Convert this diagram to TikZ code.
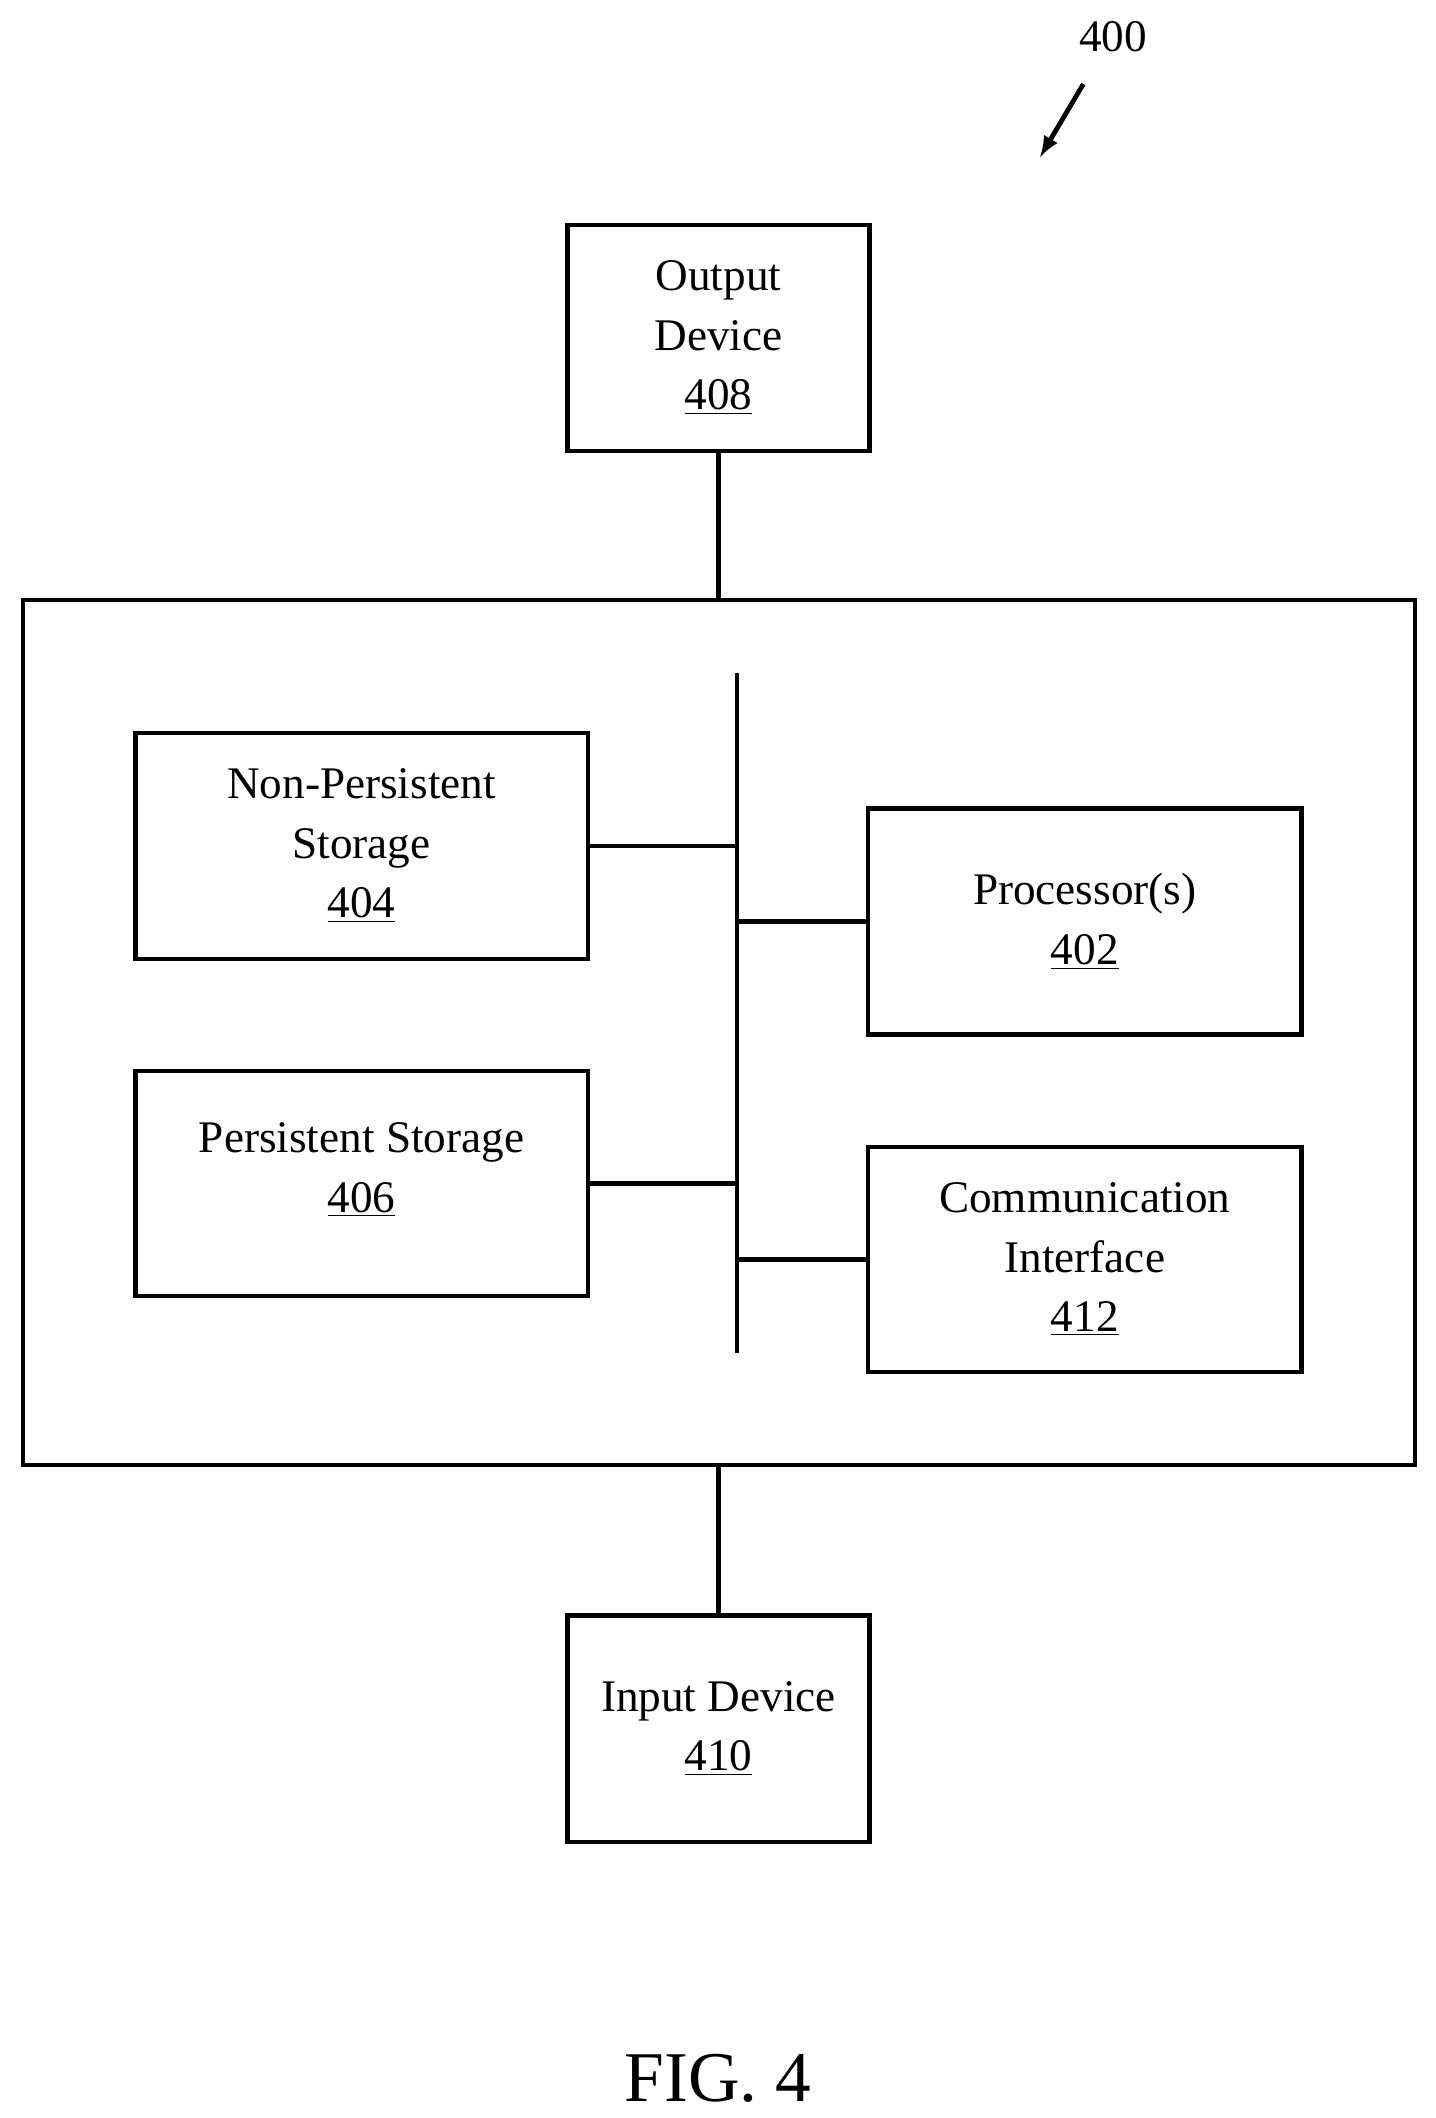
\documentclass[tikz,border=0pt]{standalone}
\usepackage{fontspec}
\setmainfont{Liberation Serif}
\usetikzlibrary{positioning}

\begin{document}
\begin{tikzpicture}[x=0.02cm, y=-0.02cm, line width=1.8pt,
        box/.style = {draw, align=center, font=\fontsize{19}{25}\selectfont, inner sep=0pt},
        link/.style = {draw}]
        \useasboundingbox (0,0) rectangle (1060,1564);
        \node [box, minimum width=4.46cm, minimum height=3.34cm] (out) at (530.5,249.5) {Output\\Device\\\underline{408}};
        \node [draw, minimum width=20.56cm, minimum height=12.78cm] (sys) at (531,762.5) {};
        \node [box, minimum width=6.68cm, minimum height=3.34cm] (nps) at (267,624.5) {Non-Persistent\\Storage\\\underline{404}};
        \node [box, minimum width=6.68cm, minimum height=3.32cm] (ps) at (267,874) {Persistent Storage\\\underline{406}\\[-0.6em]};
        \node [box, minimum width=6.4cm, minimum height=3.34cm] (proc) at (801,680.5) {Processor(s)\\\underline{402}};
        \node [box, minimum width=6.4cm, minimum height=3.32cm] (comm) at (801,930) {Communication\\Interface\\\underline{412}};
        \node [box, minimum width=4.46cm, minimum height=3.34cm] (in) at (530.5,1276.5) {Input Device\\\underline{410}};
        \coordinate (bt) at (544,497);
        \coordinate (bb) at (544,999);
        \draw (bt) -- (bb);
        \draw (nps.east) -- (nps.east -| bt);
        \draw (ps.east) -- (ps.east -| bt);
        \draw (proc.west) -- (proc.west -| bt);
        \draw (comm.west) -- (comm.west -| bt);
        \draw (out.south) -- (out.south |- sys.north);
        \draw (in.north) -- (in.north |- sys.south);
        % figure labels
        \node [font=\fontsize{19}{23}\selectfont] (ref) at (822,27) {400};
        \coordinate (tip) at (768,116);
        \draw [-latex, line width=2pt] (800,62) -- (tip);
        \node [font=\fontsize{30}{36}\selectfont] (fig) at (530,1535) {FIG. 4};
\end{tikzpicture}
\end{document}
